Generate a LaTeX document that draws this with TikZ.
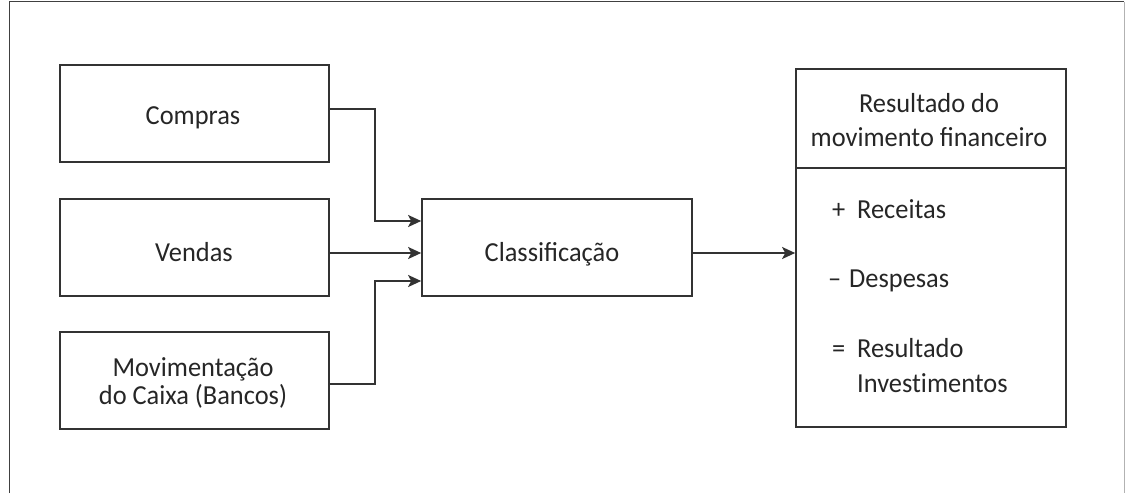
\documentclass[tikz,border=0pt]{standalone}
\usepackage{fontspec}
\setmainfont{Carlito}[FakeStretch=0.96]
\usetikzlibrary{arrows.meta,calc}
\tikzset{
  box/.style={draw=black!80, line width=1.7pt, minimum width=269pt, minimum height=97pt, inner sep=0pt},
  txt/.style={inner sep=0pt, anchor=base, align=center, font=\fontsize{27.5}{28}\selectfont, text=black!85},
  ltxt/.style={inner sep=0pt, anchor=base west, align=left, font=\fontsize{27.5}{35}\selectfont, text=black!85},
  conn/.style={draw=black!80, line width=1.7pt, -{Stealth[length=13pt,width=12pt,inset=3pt]}},
  plain/.style={draw=black!80, line width=1.7pt}
}
\begin{document}
\begin{tikzpicture}[x=1pt,y=-1pt]
\useasboundingbox (0,0) rectangle (1126,493);
% frame
\draw[black!75, line width=1.7pt] (9.5,493) -- (9.5,1.5) -- (1124,1.5);
\draw[black!30, line width=1pt] (1124,1.5) -- (1124,493);
% boxes
\node[box] (compras) at (194.5,113.5) {};
\node[box] (vendas) at (194.5,247.5) {};
\node[box] (mov) at (194.5,380.5) {};
\node[box, minimum width=270pt] (class) at (557,247.5) {};
\node[box, minimum width=270pt, minimum height=358pt] (res) at (931,248) {};
% texts
\node[txt] (tcompras) at (193,124) {Compras};
\node[txt] (tvendas) at (194,261) {Vendas};
\node[txt] (tmov) at (193,404) {Movimentação\\do Caixa (Bancos)};
\node[txt] (tclass) at (552,261) {Classificação};
\coordinate (divl) at (796,168);
\coordinate (divr) at (1066,168);
\draw[plain] (divl) -- (divr);
\node[txt, font=\fontsize{27.5}{34}\selectfont] (title) at (929,146) {Resultado do\\movimento financeiro};
\node[ltxt] (rec) at (832,218) {\makebox[25pt][l]{+}Receitas};
\node[ltxt] (desp) at (828,287) {\makebox[21pt][l]{–}Despesas};
\node[ltxt] (resul) at (832,392) {\makebox[25pt][l]{=}Resultado\\\hspace*{25pt}Invest\kern0pt imentos};
% connectors
\coordinate (jc) at (375,109);
\coordinate (jm) at (375,384);
\draw[conn] (compras.east |- jc) -- (jc) |- (class.west |- 0,221);
\draw[conn] (vendas.east |- 0,253) -- (class.west |- 0,253);
\draw[conn] (mov.east |- jm) -- (jm) |- (class.west |- 0,281);
\draw[conn] (class.east |- 0,253) -- (res.west |- 0,253);
\end{tikzpicture}
\end{document}
